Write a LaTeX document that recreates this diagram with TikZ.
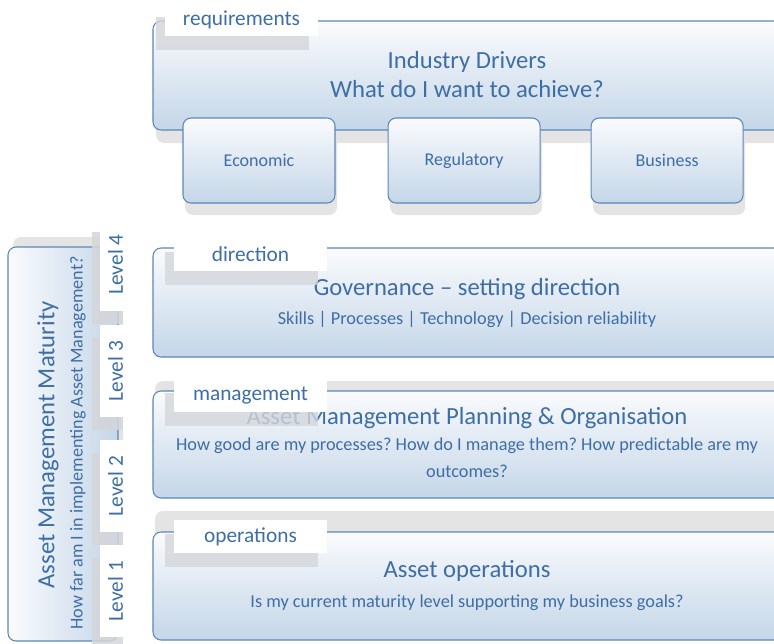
\documentclass[tikz,border=0pt]{standalone}
\usepackage{fontspec}
\setmainfont{Carlito}
\usepackage{tikz}
\usetikzlibrary{shadows, positioning}
\frenchspacing

\definecolor{txtblue}{RGB}{62,110,166}
\definecolor{boxline}{RGB}{92,134,184}
\definecolor{boxtop}{RGB}{250,251,253}
\definecolor{boxbot}{RGB}{196,214,232}
\definecolor{shadegray}{RGB}{228,228,228}
\definecolor{taggray}{RGB}{212,214,218}

\tikzstyle{bigbox} = [rectangle, rounded corners=6pt, draw=boxline, line width=0.8pt, top color=boxtop, bottom color=boxbot, inner sep=0pt]
\tikzstyle{sidebox} = [bigbox, left color=boxtop, right color=boxbot, minimum width=82.5pt, minimum height=295.5pt, drop shadow={shadow xshift=3.75pt, shadow yshift=7.5pt, fill=shadegray, opacity=1}]
\tikzstyle{subbox} = [bigbox, minimum width=114pt, minimum height=63.75pt, text=txtblue, font=\fontsize{13.5}{16}\selectfont, drop shadow={shadow xshift=1.5pt, shadow yshift=-9pt, fill=shadegray, opacity=1}]
\tikzstyle{tagbox} = [rectangle, fill=white, minimum width=114.75pt, minimum height=24.75pt, text=txtblue, font=\fontsize{16}{19}\selectfont, drop shadow={shadow xshift=-6.75pt, shadow yshift=-10.5pt, fill=taggray, opacity=0.8}]
\tikzstyle{levelbox} = [rectangle, fill=white, minimum width=23.25pt, minimum height=69pt, inner sep=0pt, text=txtblue, font=\fontsize{16}{19}\selectfont, drop shadow={shadow xshift=-6pt, shadow yshift=-9.75pt, fill=taggray, opacity=0.85}]
\tikzstyle{headtext} = [text=txtblue, align=center, inner sep=0pt, font=\fontsize{18.5}{21.75}\selectfont]
\tikzstyle{desctext} = [text=txtblue, align=center, inner sep=0pt, font=\fontsize{13.7}{20.25}\selectfont]

\begin{document}
\begin{tikzpicture}[x=0.75pt, y=-0.75pt]
\useasboundingbox (0,0) rectangle (774,643);
\clip (0,0) rectangle (774,643);

\node (reqbox) [bigbox, minimum width=485.25pt, minimum height=81.75pt, drop shadow={shadow xshift=2.25pt, shadow yshift=-9.75pt, fill=shadegray, opacity=1}] at (476.5,75.5) {};
\node (reqtitle) [headtext] at (467,74.5) {Industry Drivers\\What do I want to achieve?};
\node (reqtag) [tagbox] at (241.5,19.5) {requirements};
\node (econ) [subbox] at (259,160.5) {Economic};
\node (regul) [subbox, right=39pt of econ] {Regulatory};
\node (busi) [subbox, right=37.5pt of regul] {Business};

\node (dirbox) [bigbox, minimum width=485.25pt, minimum height=81.75pt] at (476.5,302.5) {};
\node (dirtitle) [headtext] at (467,289) {Governance -- setting direction};
\node (dirdesc) [desctext] at (467,319) {Skills | Processes | Technology | Decision reliability};
\node (dirtag) [tagbox] at (250.5,254.5) {direction};

\node (mgtbox) [bigbox, minimum width=485.25pt, minimum height=80.25pt, drop shadow={shadow xshift=1.5pt, shadow yshift=7.5pt, fill=shadegray, opacity=1}] at (476.5,444.5) {};
\node (mgttitle) [headtext] at (467,418) {Asset Management Planning \& Organisation};
\node (mgtdesc) [desctext] at (467,457.5) {How good are my processes? How do I manage them? How predictable are my\\outcomes?};
\node (mgttag) [tagbox] at (250.5,395.5) {management};

\node (opsbox) [bigbox, minimum width=485.25pt, minimum height=81pt, drop shadow={shadow xshift=1.5pt, shadow yshift=15.75pt, fill=shadegray, opacity=1}] at (476.5,586) {};
\node (opstitle) [headtext] at (467,571) {Asset operations};
\node (opsdesc) [desctext] at (467,603) {Is my current maturity level supporting my business goals?};
\node (opstag) [tagbox] at (250.5,536.5) {operations};

\node (matbox) [sidebox] at (63,444) {};
\node (mattitle) [headtext, rotate=90] at (48,445) {Asset Management Maturity};
\node (matdesc) [desctext, rotate=90, font=\fontsize{13.6}{17}\selectfont] at (78,443) {How far am I in implementing Asset Management?};
\node (lvlfour) [levelbox] at (115.5,264.5) {\rotatebox{90}{Level 4}};
\node (lvlthree) [levelbox] at (115.5,371) {\rotatebox{90}{Level 3}};
\node (lvltwo) [levelbox] at (115.5,486) {\rotatebox{90}{Level 2}};
\node (lvlone) [levelbox] at (115.5,591) {\rotatebox{90}{Level 1}};
\end{tikzpicture}
\end{document}
